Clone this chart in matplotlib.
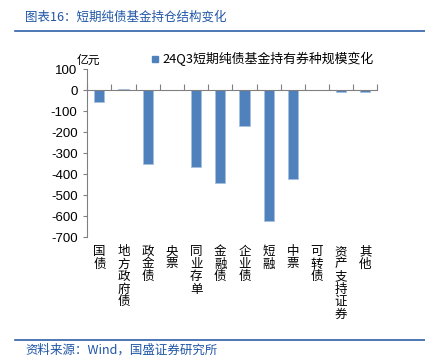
import matplotlib
matplotlib.use('Agg')
import matplotlib.pyplot as plt
import matplotlib.transforms as mtransforms
from matplotlib.lines import Line2D
from matplotlib.patches import Rectangle

plt.rcParams['font.family'] = ['Noto Sans CJK SC', 'DejaVu Sans']

categories = ['国债', '地方政府债', '政金债', '央票', '同业存单', '金融债', '企业债',
              '短融', '中票', '可转债', '资产支持证券', '其他']
values = [-57, 6, -352, 0, -367, -440, -171, -624, -424, 0, -8, -8]
yticks = [100, 0, -100, -200, -300, -400, -500, -600, -700]
legend_label = '24Q3短期纯债基金持有券种规模变化'

bar_color = '#4F81BD'
blue = '#1F55A5'

fig = plt.figure(figsize=(4.25, 3.64), dpi=100)
ax = fig.add_axes([0.2054, 0.348, 0.6826, 0.4616])

x = list(range(len(categories)))
ax.bar(x, values, width=0.42, color=bar_color, edgecolor='#A7BFDE', linewidth=0.6, zorder=2)

ax.set_xlim(-0.5, len(categories) - 0.5)
ax.set_ylim(-700, 100)
ax.set_yticks(yticks)
ax.set_yticklabels([str(v) for v in yticks], family=['Liberation Sans'], fontsize=9.5)
ax.tick_params(axis='y', direction='out', length=3, color='#808080', pad=4)

for s in ['top', 'right']:
    ax.spines[s].set_visible(False)
ax.spines['left'].set_color('#808080')
ax.spines['bottom'].set_color('#808080')
ax.spines['bottom'].set_position(('data', 0))
ax.set_xticks([i + 0.5 for i in range(-1, len(categories))])
ax.set_xticklabels([])
ax.tick_params(axis='x', direction='in', length=4, color='#808080')

# vertical category labels under the axes
trans = mtransforms.blended_transform_factory(ax.transData, fig.transFigure)
for i, c in enumerate(categories):
    ax.text(i, 1 - 245 / 364, '\n'.join(c), transform=trans, ha='center', va='top',
            fontsize=9, linespacing=0.95, color='black')

# unit label
fig.text(88 / 425, 1 - 60 / 364, '亿元', ha='center', va='center', fontsize=8.5)

# legend
fig.patches.append(Rectangle((152 / 425, 1 - 62 / 364), 6 / 425, 6 / 364,
                             transform=fig.transFigure, color=bar_color))
fig.text(162 / 425, 1 - 59 / 364, legend_label, ha='left', va='center', fontsize=9.3)

# title, rules and source
fig.text(25 / 425, 1 - 17 / 364, '图表16：短期纯债基金持仓结构变化', ha='left', va='center',
         fontsize=9, color=blue)
fig.lines.append(Line2D([15 / 425, 1], [1 - 31 / 364] * 2, transform=fig.transFigure,
                        color='#2E5FA8', linewidth=1.2))
fig.lines.append(Line2D([15 / 425, 1], [1 - 340 / 364] * 2, transform=fig.transFigure,
                        color='#2E5FA8', linewidth=1.2))
fig.text(25 / 425, 1 - 350 / 364, '资料来源：Wind，国盛证券研究所', ha='left', va='center',
         fontsize=9, color=blue)

fig.savefig('out.png', dpi=100)
